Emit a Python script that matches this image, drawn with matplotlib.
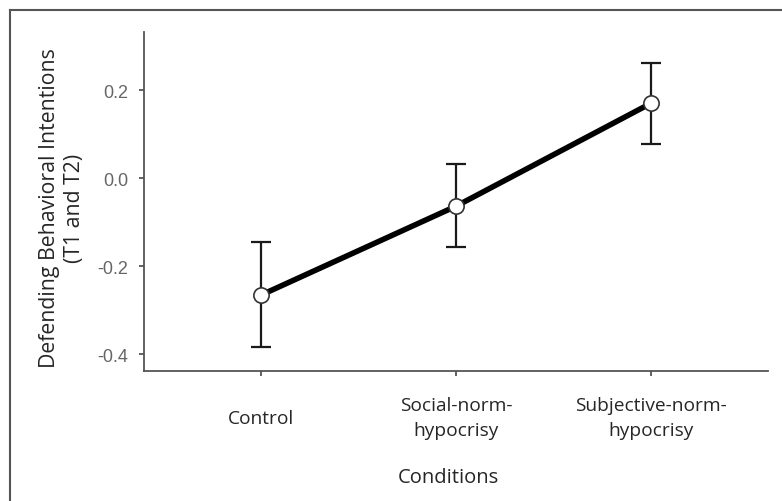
import matplotlib.pyplot as plt
from matplotlib.lines import Line2D

# data
conditions = ['Control', 'Social-norm-\nhypocrisy', 'Subjective-norm-\nhypocrisy']
means = [-0.266, -0.064, 0.170]
upper = [-0.145, 0.032, 0.261]
lower = [-0.384, -0.157, 0.077]
yticks = [-0.4, -0.2, 0.0, 0.2]

err_low = [m - lo for m, lo in zip(means, lower)]
err_high = [hi - m for m, hi in zip(means, upper)]
x = list(range(len(conditions)))

W, H = 782, 502
fig = plt.figure(figsize=(W / 100, H / 100), dpi=100)
ax = fig.add_axes([144 / W, 1 - 372 / H, (768 - 144) / W, (372 - 33) / H])

# outer frame (top and left edges visible)
fig.add_artist(Line2D([10 / W, 1], [1 - 11 / H, 1 - 11 / H], transform=fig.transFigure, color='#555555', lw=1.5))
fig.add_artist(Line2D([10 / W, 10 / W], [0, 1 - 11 / H], transform=fig.transFigure, color='#555555', lw=1.5))

ax.errorbar(x, means, yerr=[err_low, err_high], fmt='none', ecolor='#1a1a1a',
            elinewidth=1.6, capsize=7, capthick=1.6, zorder=2)
ax.plot(x, means, color='black', lw=4, zorder=3)
ax.plot(x, means, 'o', ms=11, mfc='white', mec='#333333', mew=1.2, lw=0, zorder=4)

ax.set_xlim(-0.6, 2.6)
ax.set_ylim(-0.4386, 0.332)
ax.set_xticks(x)
ax.set_xticklabels(conditions, fontsize=13.8, family='Open Sans', color='#262626',
                   va='center', linespacing=1.5)
ax.set_yticks(yticks)
ax.set_yticklabels(['%.1f' % v for v in yticks], fontsize=13, color='#666666', family='Liberation Sans')
ax.tick_params(axis='both', colors='#555555', length=3.5, width=1.3)
ax.tick_params(axis='x', labelcolor='#262626', pad=30)
ax.tick_params(axis='y', labelcolor='#666666', pad=8)

for s in ['top', 'right']:
    ax.spines[s].set_visible(False)
for s in ['left', 'bottom']:
    ax.spines[s].set_color('#555555')
    ax.spines[s].set_linewidth(1.3)

fig.text(448 / W, 1 - 478 / H, 'Conditions', fontsize=14.5, family='Open Sans',
         color='#262626', ha='center', va='center')
fig.text(62 / W, 1 - 208 / H, 'Defending Behavioral Intentions\n(T1 and T2)', fontsize=15.3,
         family='Open Sans', color='#262626', rotation=90, ha='center', va='center',
         multialignment='center', linespacing=1.3)

fig.savefig('out.png', dpi=100)
